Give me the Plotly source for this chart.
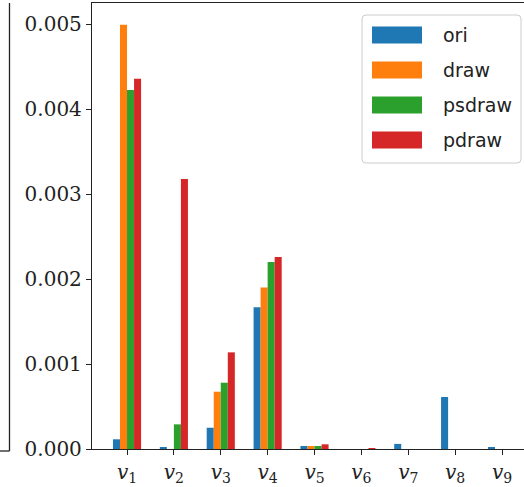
import plotly.graph_objects as go

categories = ["v1", "v2", "v3", "v4", "v5", "v6", "v7", "v8", "v9"]
tick_labels = ["<i>v</i><sub>%d</sub>" % i for i in range(1, 10)]
series_names = ["ori", "draw", "psdraw", "pdraw"]
colors = ["#1f77b4", "#ff7f0e", "#2ca02c", "#d62728"]

ori = [0.000114, 0.00002, 0.00025, 0.001667, 0.000035, 0.0, 0.00006, 0.000612, 0.00002]
draw = [0.00499, 0.0, 0.000674, 0.0019, 0.000035, 0.0, 0.0, 0.0, 0.0]
psdraw = [0.004224, 0.00029, 0.00078, 0.0022, 0.000035, 0.0, 0.0, 0.0, 0.0]
pdraw = [0.004357, 0.003176, 0.001137, 0.00226, 0.000055, 0.000004, 0.0, 0.0, 0.0]
series_values = [ori, draw, psdraw, pdraw]
y_ticks = [0.0, 0.001, 0.002, 0.003, 0.004, 0.005]

W, H = 524, 487
L, R, T, B = 92, 0, 3, 38
pw, ph = W - L - R, H - T - B


def px(x):
    return (x - L) / pw


def py(y):
    return (H - B - y) / ph


fig = go.Figure()
xs = list(range(len(categories)))
for name, vals, c in zip(series_names, series_values, colors):
    fig.add_trace(go.Bar(x=xs, y=vals, name=name, marker=dict(color=c, line=dict(width=0)),
                         showlegend=False))

fig.update_layout(
    width=W, height=H, margin=dict(l=L, r=R, t=T, b=B),
    paper_bgcolor="white", plot_bgcolor="white",
    barmode="group", bargap=0.4, bargroupgap=0,
    font=dict(family="DejaVu Serif", color="black", size=18),
)
fig.update_xaxes(range=[-0.747, 8.469], tickmode="array", tickvals=xs, ticktext=tick_labels,
                 showline=True, linecolor="#222", linewidth=1.3, mirror=True,
                 ticks="outside", ticklen=5, tickwidth=1.2, tickcolor="#222",
                 showgrid=False, zeroline=False,
                 tickfont=dict(family="DejaVu Serif", size=20, color="#222"))
fig.update_yaxes(range=[0, 0.005247], tickmode="array", tickvals=y_ticks,
                 ticktext=["%.3f" % v for v in y_ticks],
                 showline=True, linecolor="#222", linewidth=1.3, mirror=False,
                 ticks="outside", ticklen=5, tickwidth=1.2, tickcolor="#222",
                 showgrid=False, zeroline=False,
                 tickfont=dict(family="DejaVu Serif", size=20, color="#222"))

shapes = []
# neighbouring panel edge on the left
shapes.append(dict(type="line", xref="paper", yref="paper", x0=px(9.5), x1=px(9.5),
                   y0=py(3), y1=py(451), line=dict(color="#222", width=1.3)))
shapes.append(dict(type="line", xref="paper", yref="paper", x0=px(0), x1=px(9.5),
                   y0=py(451), y1=py(451), line=dict(color="#222", width=1.3)))

# legend frame
x0, x1, y0, y1 = 362, 521, 15, 163
r = 4
path = (f"M {px(x0+r)},{py(y0)} L {px(x1-r)},{py(y0)} Q {px(x1)},{py(y0)} {px(x1)},{py(y0+r)} "
        f"L {px(x1)},{py(y1-r)} Q {px(x1)},{py(y1)} {px(x1-r)},{py(y1)} "
        f"L {px(x0+r)},{py(y1)} Q {px(x0)},{py(y1)} {px(x0)},{py(y1-r)} "
        f"L {px(x0)},{py(y0+r)} Q {px(x0)},{py(y0)} {px(x0+r)},{py(y0)} Z")
shapes.append(dict(type="path", xref="paper", yref="paper", path=path,
                   fillcolor="rgba(255,255,255,0.8)", line=dict(color="#cccccc", width=1)))
annotations = []
for i, (name, c) in enumerate(zip(series_names, colors)):
    cy = 35 + 35 * i
    shapes.append(dict(type="rect", xref="paper", yref="paper",
                       x0=px(372), x1=px(422), y0=py(cy - 8.5), y1=py(cy + 8.5),
                       fillcolor=c, line=dict(width=0)))
    annotations.append(dict(xref="paper", yref="paper", x=px(441), y=py(cy), text=name,
                            showarrow=False, xanchor="left", yanchor="middle",
                            font=dict(family="DejaVu Sans", size=19, color="#222")))

fig.update_layout(shapes=shapes, annotations=annotations)
fig.write_html("out.html")
